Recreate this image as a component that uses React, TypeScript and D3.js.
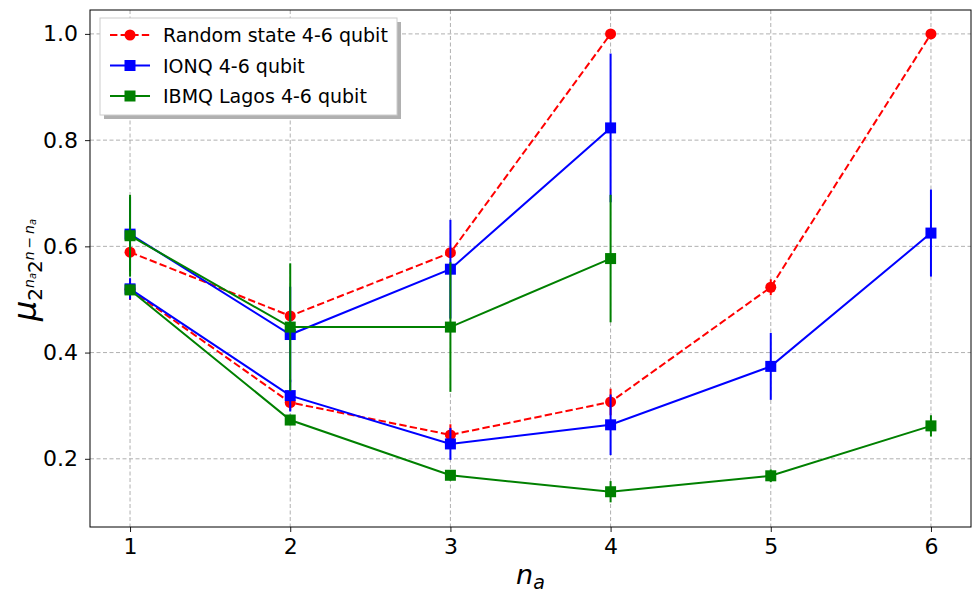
import React, { useEffect, useRef } from 'react';
import * as d3 from 'd3';

// data: two curves per device (upper = 4 qubit, lower = 6 qubit)
const randomUpper = [0.589, 0.469, 0.588, 1.0];
const randomUpperErr = [0.0, 0.0, 0.0, 0.0];
const randomLower = [0.519, 0.306, 0.245, 0.307, 0.523, 1.0];
const randomLowerErr = [0.02, 0.015, 0.02, 0.025, 0.015, 0.0];

const ionqUpper = [0.623, 0.434, 0.557, 0.823];
const ionqUpperErr = [0.07, 0.09, 0.093, 0.14];
const ionqLower = [0.52, 0.319, 0.228, 0.264, 0.374, 0.625];
const ionqLowerErr = [0.02, 0.03, 0.03, 0.057, 0.063, 0.082];

const lagosUpper = [0.62, 0.448, 0.448, 0.577];
const lagosUpperErr = [0.077, 0.12, 0.122, 0.12];
const lagosLower = [0.518, 0.273, 0.169, 0.138, 0.168, 0.262];
const lagosLowerErr = [0.01, 0.01, 0.01, 0.02, 0.012, 0.02];

const xTicks = [1, 2, 3, 4, 5, 6];
const yTicks = [0.2, 0.4, 0.6, 0.8, 1.0];

const series = [
  { name: 'Random state 4-6 qubit', color: '#ff0000', marker: 'circle', dashed: true, curves: [[randomUpper, randomUpperErr], [randomLower, randomLowerErr]] },
  { name: 'IONQ 4-6 qubit', color: '#0000ff', marker: 'square', dashed: false, curves: [[ionqUpper, ionqUpperErr], [ionqLower, ionqLowerErr]] },
  { name: 'IBMQ Lagos 4-6 qubit', color: '#008000', marker: 'square', dashed: false, curves: [[lagosUpper, lagosUpperErr], [lagosLower, lagosLowerErr]] },
];

export default function App() {
  const ref = useRef<SVGSVGElement>(null);

  useEffect(() => {
    document.body.style.margin = '0';
    document.body.style.overflow = 'hidden';
    draw();
  }, []);

  function draw() {
    const width = 973;
    const height = 594;
    const margin = { top: 10, right: 2, bottom: 67, left: 90 };
    const svg = d3.select(ref.current);
    svg.selectAll('*').remove();

    const x = d3.scaleLinear().domain([0.75, 6.25]).range([margin.left, width - margin.right]);
    const y = d3.scaleLinear().domain([0.0716, 1.045]).range([height - margin.bottom, margin.top]);

    const font = 'DejaVu Sans, sans-serif';

    // grid
    const grid = svg.append('g');
    grid.selectAll('.gx')
      .data(xTicks)
      .enter()
      .append('line')
      .attr('x1', (d) => x(d)).attr('x2', (d) => x(d))
      .attr('y1', margin.top).attr('y2', height - margin.bottom)
      .attr('stroke', '#b0b0b0').attr('stroke-width', 1).attr('stroke-dasharray', '4,2.5');
    grid.selectAll('.gy')
      .data(yTicks)
      .enter()
      .append('line')
      .attr('y1', (d) => y(d)).attr('y2', (d) => y(d))
      .attr('x1', margin.left).attr('x2', width - margin.right)
      .attr('stroke', '#b0b0b0').attr('stroke-width', 1).attr('stroke-dasharray', '4,2.5');

    // axes
    const xAxis = svg.append('g')
      .attr('transform', `translate(0,${height - margin.bottom})`)
      .call(d3.axisBottom(x).tickValues(xTicks).tickFormat(d3.format('d')).tickSize(5).tickPadding(6));
    const yAxis = svg.append('g')
      .attr('transform', `translate(${margin.left},0)`)
      .call(d3.axisLeft(y).tickValues(yTicks).tickFormat(d3.format('.1f')).tickSize(5).tickPadding(7));
    [xAxis, yAxis].forEach((a) => {
      a.select('.domain').remove();
      a.selectAll('text').attr('font-family', font).attr('font-size', 22).attr('fill', '#000');
      a.selectAll('line').attr('stroke', '#000').attr('stroke-width', 0.9);
    });

    // data
    const plot = svg.append('g');
    series.forEach((s) => {
      s.curves.forEach(([vals, errs]) => {
        const pts = vals.map((v, i) => ({ n: i + 1, v, e: errs[i] }));
        const line = d3.line<any>().x((d) => x(d.n)).y((d) => y(d.v));
        plot.append('path')
          .datum(pts)
          .attr('d', line)
          .attr('fill', 'none')
          .attr('stroke', s.color)
          .attr('stroke-width', 2)
          .attr('stroke-dasharray', s.dashed ? '7.4,3.2' : null);
        plot.selectAll(null)
          .data(pts.filter((p) => p.e > 0))
          .enter()
          .append('line')
          .attr('x1', (d) => x(d.n)).attr('x2', (d) => x(d.n))
          .attr('y1', (d) => y(d.v - d.e)).attr('y2', (d) => y(d.v + d.e))
          .attr('stroke', s.color).attr('stroke-width', 2);
        if (s.marker === 'circle') {
          plot.selectAll(null)
            .data(pts)
            .enter()
            .append('circle')
            .attr('cx', (d) => x(d.n)).attr('cy', (d) => y(d.v))
            .attr('r', 5.5)
            .attr('fill', s.color);
        } else {
          plot.selectAll(null)
            .data(pts)
            .enter()
            .append('rect')
            .attr('x', (d) => x(d.n) - 5.5).attr('y', (d) => y(d.v) - 5.5)
            .attr('width', 11).attr('height', 11)
            .attr('fill', s.color);
        }
      });
    });

    // frame
    svg.append('rect')
      .attr('x', margin.left).attr('y', margin.top)
      .attr('width', width - margin.right - margin.left)
      .attr('height', height - margin.bottom - margin.top)
      .attr('fill', 'none').attr('stroke', '#000').attr('stroke-width', 1);

    // legend
    const lg = svg.append('g').attr('transform', 'translate(100,18)');
    lg.append('rect').attr('x', 4).attr('y', 4).attr('width', 297).attr('height', 97).attr('fill', '#b0b0b0');
    lg.append('rect').attr('x', 0).attr('y', 0).attr('width', 297).attr('height', 97)
      .attr('fill', '#fff').attr('stroke', '#ccc').attr('stroke-width', 1);
    series.forEach((s, i) => {
      const cy = 17 + i * 30.5;
      lg.append('line').attr('x1', 10).attr('x2', 50).attr('y1', cy).attr('y2', cy)
        .attr('stroke', s.color).attr('stroke-width', 2)
        .attr('stroke-dasharray', s.dashed ? '7.4,3.2' : null);
      if (s.marker === 'circle') {
        lg.append('circle').attr('cx', 30).attr('cy', cy).attr('r', 5.5).attr('fill', s.color);
      } else {
        lg.append('rect').attr('x', 24.5).attr('y', cy - 5.5).attr('width', 11).attr('height', 11).attr('fill', s.color);
      }
      lg.append('text').attr('x', 63).attr('y', cy + 7)
        .attr('font-family', font).attr('font-size', 19).text(s.name);
    });

    // axis labels
    const xl = svg.append('text')
      .attr('x', x(3.5)).attr('y', 584)
      .attr('text-anchor', 'middle')
      .attr('font-family', font).attr('font-size', 27).attr('font-style', 'italic');
    xl.append('tspan').text('n');
    xl.append('tspan').attr('font-size', 19).attr('dy', 5).text('a');

    const yl = svg.append('text')
      .attr('transform', `translate(36,270) rotate(-90)`)
      .attr('text-anchor', 'middle')
      .attr('font-family', font).attr('font-style', 'italic');
    yl.append('tspan').attr('font-size', 32).text('μ');
    yl.append('tspan').attr('font-size', 20).attr('dy', 6).attr('font-style', 'normal').text('2');
    yl.append('tspan').attr('font-size', 14).attr('dy', -8).text('n');
    yl.append('tspan').attr('font-size', 10).attr('dy', 2).text('a');
    yl.append('tspan').attr('font-size', 20).attr('dy', 6).attr('font-style', 'normal').text('2');
    yl.append('tspan').attr('font-size', 14).attr('dy', -8).text('n');
    yl.append('tspan').attr('font-size', 14).attr('font-style', 'normal').text('\u2009−\u2009');
    yl.append('tspan').attr('font-size', 14).text('n');
    yl.append('tspan').attr('font-size', 10).attr('dy', 2).text('a');
  }

  return (
    <div style={{ width: 973, height: 594 }}>
      <svg ref={ref} width={973} height={594} style={{ display: 'block' }}></svg>
    </div>
  );
}
